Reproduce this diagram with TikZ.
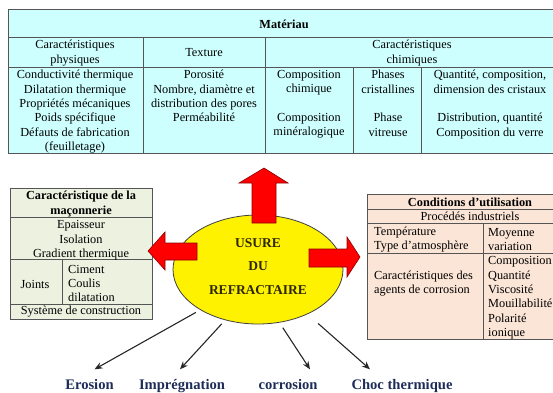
\documentclass[tikz,border=0pt]{standalone}
\usepackage{fontspec}
\setmainfont{Liberation Serif}
\usetikzlibrary{arrows.meta,shapes.geometric}

\definecolor{matcyan}{RGB}{206,255,255}
\definecolor{macgreen}{RGB}{236,241,224}
\definecolor{condpeach}{RGB}{251,229,214}
\definecolor{gridgray}{RGB}{85,85,85}
\definecolor{outnavy}{RGB}{30,44,88}
\definecolor{usurebrown}{RGB}{45,40,0}

\tikzset{
  txt/.style={font=\fontsize{12.3}{14.4}\selectfont, align=center, inner sep=0pt},
  txtl/.style={txt, align=left, anchor=west},
  hdr/.style={txt, font=\fontsize{12.3}{14.4}\selectfont\bfseries},
  grid/.style={draw=gridgray, line width=0.9pt},
  bigarrow/.style={fill=red, draw=red!55!black, line width=0.6pt, line join=miter},
  outcome/.style={font=\fontsize{14.6}{16}\selectfont\bfseries, text=outnavy, inner sep=1pt, text height=10pt, text depth=3pt},
  thinarrow/.style={-{Stealth[length=8pt,width=6.5pt]}, line width=1.1pt, draw=black!85}
}

\begin{document}
\begin{tikzpicture}[x=1pt,y=-1pt]
\useasboundingbox (0,0) rectangle (553,392);
\clip (0,0) rectangle (553,392);

% Materiau
\fill[matcyan] (8,9) rectangle (560,153);
\draw[grid] (8,9) rectangle (560,153);
\draw[grid] (8,37) -- (560,37);
\draw[grid] (8,67) -- (560,67);
\draw[grid] (143,37) -- (143,153);
\draw[grid] (265,37) -- (265,153);
\draw[grid] (353,67) -- (353,153);
\draw[grid] (421,67) -- (421,153);
\node[hdr] (mat) at (284,24) {Matériau};
\node[txt] (physhdr) at (75,53) {Caractéristiques\\physiques};
\node[txt] (texhdr) at (204,53) {Texture};
\node[txt] (chimhdr) at (412,53) {Caractéristiques\\chimiques};
\node[txt,anchor=north] (physbody) at (75,70) {Conductivité thermique\\Dilatation thermique\\Propriétés mécaniques\\Poids spécifique\\Défauts de fabrication\\(feuilletage)};
\node[txt,anchor=north] (texbody) at (204,70) {Porosité\\Nombre, diamètre et\\distribution des pores\\Perméabilité};
\node[txt,anchor=north] (compbody) at (309,70) {Composition\\chimique\\[14.4pt]Composition\\minéralogique};
\node[txt,anchor=north] (phasebody) at (388,70) {Phases\\cristallines\\[14.4pt]Phase\\vitreuse};
\node[txt,anchor=north] (quantbody) at (490,70) {Quantité, composition,\\dimension des cristaux\\[14.4pt]Distribution, quantité\\Composition du verre};

% Maconnerie
\fill[macgreen] (10,188) rectangle (152,319);
\draw[grid] (10,188) rectangle (152,319);
\draw[grid] (10,217) -- (152,217);
\draw[grid] (10,259) -- (152,259);
\draw[grid] (10,304) -- (152,304);
\draw[grid] (62,259) -- (62,304);
\node[hdr] (macotitle) at (81,204) {Caractéristique de la\\maçonnerie};
\node[txt] (macoiso) at (81,240.5) {Epaisseur\\Isolation\\Gradient thermique};
\node[txt] (joints) at (35,284) {Joints};
\node[txtl] (jointslist) at (68,283.5) {Ciment\\Coulis\\dilatation};
\node[txt] (macosys) at (81,312) {Système de construction};

% Conditions d'utilisation
\fill[condpeach] (367,194) rectangle (575,339);
\draw[grid] (367,194) rectangle (575,339);
\draw[grid] (367,209) -- (575,209);
\draw[grid] (367,223) -- (575,223);
\draw[grid] (367,253) -- (575,253);
\draw[grid] (483,223) -- (483,339);
\node[hdr] (condtitle) at (470,202) {Conditions d’utilisation};
\node[txt] (procedes) at (470,216.5) {Procédés industriels};
\node[txtl] (temp) at (374,239.5) {Température\\Type d’atmosphère};
\node[txtl] (moyenne) at (488,239.5) {Moyenne\\variation};
\node[txtl] (agents) at (374,283.5) {Caractéristiques des\\agents de corrosion};
\node[txtl] (agentslist) at (488,298) {Composition\\Quantité\\Viscosité\\Mouillabilité\\Polarité\\ionique};

% Usure
\node[ellipse, fill=yellow, draw=black!75, line width=0.8pt, minimum width=170pt, minimum height=109pt, inner sep=0pt] (usure) at (258,269.5) {};
\node[font=\fontsize{13.5}{23.5}\selectfont\bfseries, text=usurebrown, align=center, inner sep=0pt] (usurelbl) at (258,266.5) {USURE\\DU\\REFRACTAIRE};

% big arrows
\draw[bigarrow] (252,223) -- (252,183) -- (239,183) -- (264,168) -- (288,183) -- (276,183) -- (276,223) -- cycle;
\draw[bigarrow] (197,243) -- (165,243) -- (165,232) -- (148,251) -- (165,270) -- (165,260) -- (197,260) -- cycle;
\draw[bigarrow] (309,249) -- (347,249) -- (347,237) -- (360,257) -- (347,277) -- (347,267) -- (309,267) -- cycle;

% outcomes
\node[outcome] (erosion) at (89.5,386) {Erosion};
\node[outcome] (impreg) at (182,386) {Imprégnation};
\node[outcome] (corros) at (288,386) {corrosion};
\node[outcome] (choc) at (402,386) {Choc thermique};
\draw[thinarrow, shorten <=5pt] (usure.215) -- ([xshift=5pt,yshift=9pt]erosion.north);
\draw[thinarrow, shorten <=5pt] (usure.237) -- ([xshift=-2pt,yshift=9pt]impreg.north);
\draw[thinarrow, shorten <=6pt] (usure.292) -- ([xshift=22pt,yshift=9pt]corros.north);
\draw[thinarrow, shorten <=14pt] (usure.318) -- ([xshift=-32pt,yshift=9pt]choc.north);
\end{tikzpicture}
\end{document}
